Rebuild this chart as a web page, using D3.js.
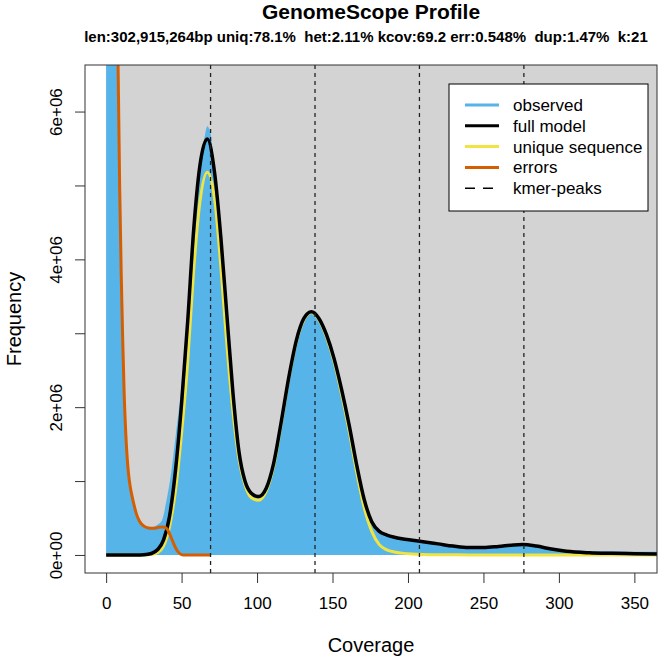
<!DOCTYPE html>
<html>
<head>
<meta charset="utf-8">
<script src="https://cdn.jsdelivr.net/npm/d3@7"></script>
<style>
  body { margin: 0; background: #fff; }
  text { font-family: "Liberation Sans", Arial, Helvetica, sans-serif; fill: #000; }
</style>
</head>
<body>
<div id="chart"></div>
<script>
// Values (frequencies in millions)
const coverage = [0, 10, 20, 25, 30, 34, 38, 42, 46, 50, 54, 58, 62, 67, 72, 76, 80, 84, 88, 92,
  96, 101, 106, 111, 116, 121, 126, 131, 136, 141, 146, 151, 156, 161, 166, 171, 176, 181, 186, 191,
  196, 203, 210, 220, 230, 240, 250, 260, 270, 276, 285, 295, 305, 320, 335, 350, 365];
const fullModel = [0, 0, 0, 0.003, 0.02, 0.07, 0.2, 0.52, 1.15, 2.05, 3.15, 4.4, 5.25, 5.63, 5.15, 4.3, 3.25, 2.2, 1.4, 1.0,
  0.84, 0.79, 0.9, 1.24, 1.8, 2.4, 2.9, 3.2, 3.29, 3.2, 2.98, 2.66, 2.24, 1.76, 1.22, 0.75, 0.45, 0.32, 0.27, 0.24,
  0.22, 0.2, 0.18, 0.15, 0.12, 0.1, 0.1, 0.115, 0.135, 0.14, 0.12, 0.08, 0.05, 0.03, 0.022, 0.017, 0.012];
const uniqueSeq = [0, 0, 0, 0, 0.005, 0.03, 0.12, 0.38, 0.88, 1.65, 2.6, 3.85, 4.75, 5.18, 4.8, 3.9, 2.85, 1.95, 1.3, 0.95,
  0.78, 0.74, 0.86, 1.2, 1.77, 2.38, 2.88, 3.18, 3.28, 3.18, 2.95, 2.62, 2.18, 1.68, 1.12, 0.64, 0.32, 0.14, 0.07, 0.04,
  0.025, 0.012, 0.006, 0.003, 0.002, 0.001, 0.001, 0.001, 0.001, 0.001, 0.001, 0.001, 0.001, 0.001, 0.001, 0.001, 0.001];

const obsCoverage = [0, 3, 6, 7, 8, 9, 10, 11, 12, 13, 14, 15, 16, 18, 20, 22, 25, 28, 31, 34, 37, 40, 43, 46, 50,
  54, 58, 62, 65, 67, 69, 72, 76, 80, 84, 88, 92, 96, 101, 106, 111, 116, 121, 126, 131, 136, 141, 146, 151, 156,
  161, 166, 171, 176, 181, 186, 191, 196, 203, 210, 220, 230, 240, 250, 260, 270, 280, 290, 300, 310, 320, 335, 350, 365];
const observed = [40, 30, 12, 8.6, 6.6, 5.0, 3.85, 2.95, 2.2, 1.7, 1.35, 1.1, 0.94, 0.74, 0.58, 0.48, 0.41, 0.38, 0.38, 0.41, 0.47, 0.74, 1.1, 1.6, 2.3,
  3.3, 4.5, 5.3, 5.62, 5.8, 5.72, 5.2, 4.32, 3.25, 2.2, 1.42, 1.0, 0.84, 0.79, 0.9, 1.24, 1.8, 2.4, 2.9, 3.2, 3.3, 3.2, 2.98, 2.66, 2.24,
  1.75, 1.21, 0.75, 0.45, 0.32, 0.27, 0.24, 0.22, 0.2, 0.18, 0.15, 0.12, 0.105, 0.105, 0.12, 0.138, 0.135, 0.105, 0.075, 0.06, 0.055, 0.05, 0.045, 0.042];

const errCoverage = [5, 6, 7, 8, 9, 10, 11, 12, 13, 14, 15, 16, 18, 20, 22, 25, 28, 31, 34, 37, 39, 41, 43, 45, 47, 49, 51, 60, 69];
const errors = [14, 10.5, 8.2, 6.5, 4.95, 3.8, 2.9, 2.15, 1.65, 1.3, 1.07, 0.92, 0.72, 0.56, 0.46, 0.39, 0.365, 0.36, 0.37, 0.38, 0.375, 0.33, 0.24, 0.14, 0.06, 0.015, 0, 0, 0];

const kmerPeaks = [69.2, 138.4, 207.6, 276.8];
const xTicks = [0, 50, 100, 150, 200, 250, 300, 350];
const yTicks = [0, 1, 2, 3, 4, 5, 6];
const yTickLabels = ["0e+00", "", "2e+06", "", "4e+06", "", "6e+06"];

const legendLabels = ["observed", "full model", "unique sequence", "errors", "kmer-peaks"];
const legendColors = ["#56B4E9", "#000000", "#F0E442", "#D55E00", "#000000"];

const title = "GenomeScope Profile";
const subtitle = "len:302,915,264bp uniq:78.1%  het:2.11% kcov:69.2 err:0.548%  dup:1.47%  k:21";

const width = 660, height = 661;
const box = { left: 85, right: 657, top: 65, bottom: 573 };

const svg = d3.select("#chart").append("svg")
  .attr("width", width).attr("height", height);

const x = d3.scaleLinear().domain([-14, 365]).range([box.left, box.right]);
const y = d3.scaleLinear().domain([-0.244, 6.63]).range([box.bottom, box.top]);

svg.append("clipPath").attr("id", "plot-clip")
  .append("rect")
  .attr("x", box.left).attr("y", box.top)
  .attr("width", box.right - box.left).attr("height", box.bottom - box.top);

const plot = svg.append("g").attr("clip-path", "url(#plot-clip)");

// grey background from (0,0) outwards
plot.append("rect")
  .attr("x", x(0)).attr("y", box.top)
  .attr("width", box.right - x(0)).attr("height", y(0) - box.top)
  .attr("fill", "#D3D3D3");

// observed histogram as filled area
const obsData = obsCoverage.map((c, i) => [c, observed[i]]);
plot.append("path")
  .datum(obsData)
  .attr("fill", "#56B4E9")
  .attr("d", d3.area()
    .x(d => x(d[0])).y0(y(0)).y1(d => y(d[1]))
    .curve(d3.curveMonotoneX));

const line = d3.line().x(d => x(d[0])).y(d => y(d[1])).curve(d3.curveMonotoneX);

plot.append("path")
  .datum(coverage.map((c, i) => [c, uniqueSeq[i]]))
  .attr("fill", "none").attr("stroke", "#F0E442").attr("stroke-width", 3)
  .attr("d", line);

plot.append("path")
  .datum(coverage.map((c, i) => [c, fullModel[i]]))
  .attr("fill", "none").attr("stroke", "#000").attr("stroke-width", 3.5)
  .attr("d", line);

plot.append("path")
  .datum(errCoverage.map((c, i) => [c, errors[i]]))
  .attr("fill", "none").attr("stroke", "#D55E00").attr("stroke-width", 3)
  .attr("d", line);

plot.selectAll("line.peak")
  .data(kmerPeaks)
  .join("line")
  .attr("class", "peak")
  .attr("x1", d => x(d)).attr("x2", d => x(d))
  .attr("y1", box.top).attr("y2", box.bottom)
  .attr("stroke", "#222").attr("stroke-width", 1.3)
  .attr("stroke-dasharray", "4,4");

// box
svg.append("rect")
  .attr("x", box.left).attr("y", box.top)
  .attr("width", box.right - box.left).attr("height", box.bottom - box.top)
  .attr("fill", "none").attr("stroke", "#333").attr("stroke-width", 1);

// x axis
const xAxis = svg.append("g")
  .attr("transform", `translate(0,${box.bottom})`)
  .call(d3.axisBottom(x).tickValues(xTicks).tickSize(10).tickPadding(14).tickFormat(d3.format("d")));
xAxis.select(".domain").remove();
xAxis.selectAll(".tick line").attr("stroke", "#333");
xAxis.selectAll(".tick text")
  .style("font-size", "17px").style("font-family", "'Liberation Sans', Arial, sans-serif").attr("fill", "#000");

// y axis
const yAxis = svg.append("g")
  .attr("transform", `translate(${box.left},0)`)
  .call(d3.axisLeft(y).tickValues(yTicks).tickSize(10).tickFormat((d, i) => yTickLabels[i]));
yAxis.select(".domain").remove();
yAxis.selectAll(".tick line").attr("stroke", "#333");
yAxis.selectAll(".tick text")
  .attr("x", null).attr("dy", null)
  .attr("text-anchor", "middle")
  .attr("transform", "translate(-23,0) rotate(-90)")
  .style("font-size", "17px").style("font-family", "'Liberation Sans', Arial, sans-serif").attr("fill", "#000");

// axis titles
svg.append("text")
  .attr("x", (box.left + box.right) / 2).attr("y", 652)
  .attr("text-anchor", "middle").style("font-size", "20px")
  .text("Coverage");

svg.append("text")
  .attr("transform", `translate(21,${(box.top + box.bottom) / 2}) rotate(-90)`)
  .attr("text-anchor", "middle").style("font-size", "20px")
  .text("Frequency");

// titles
svg.append("text")
  .attr("x", (box.left + box.right) / 2).attr("y", 19)
  .attr("text-anchor", "middle").style("font-size", "21px").style("font-weight", "bold")
  .text(title);

svg.append("text")
  .attr("x", (box.left + box.right) / 2 - 5).attr("y", 42)
  .attr("text-anchor", "middle").style("font-size", "15px").style("font-weight", "bold")
  .style("white-space", "pre")
  .text(subtitle);

// legend
const legend = svg.append("g");
legend.append("rect")
  .attr("x", 449).attr("y", 84).attr("width", 199).attr("height", 127)
  .attr("fill", "#fff").attr("stroke", "#000").attr("stroke-width", 1);

const rows = legend.selectAll("g.row")
  .data(legendLabels)
  .join("g")
  .attr("class", "row")
  .attr("transform", (d, i) => `translate(0,${105 + i * 20.8})`);

rows.append("line")
  .attr("x1", 465).attr("x2", (d, i) => i === 4 ? 493 : 499)
  .attr("stroke", (d, i) => legendColors[i])
  .attr("stroke-width", (d, i) => i === 4 ? 1.5 : 3)
  .attr("stroke-dasharray", (d, i) => i === 4 ? "10,8" : null);

rows.append("text")
  .attr("x", 513).attr("dy", "0.35em")
  .style("font-size", "17px")
  .text(d => d);
</script>
</body>
</html>
